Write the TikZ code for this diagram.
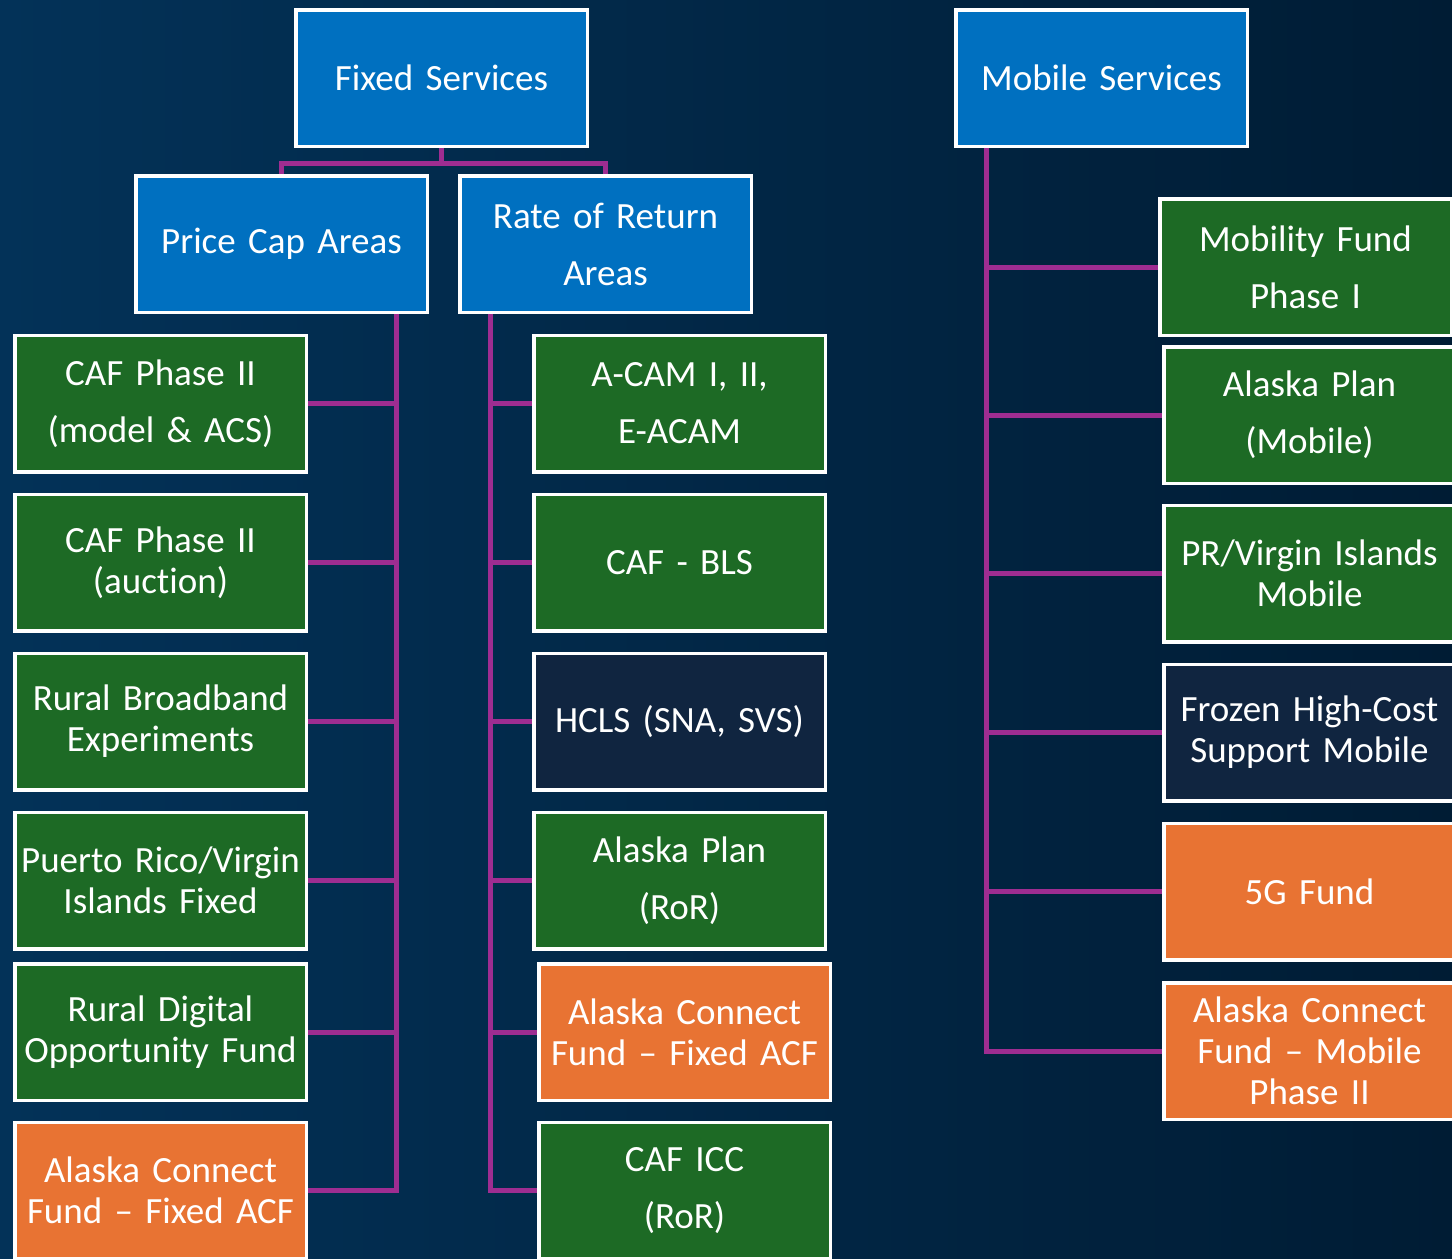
\documentclass[tikz,border=0pt]{standalone}
\usepackage{fontspec}
\setmainfont{Carlito}[Ligatures=NoCommon, WordSpace=0.8]
\usetikzlibrary{calc}

\definecolor{bgleft}{RGB}{3,50,88}
\definecolor{bgright}{RGB}{0,28,52}
\definecolor{boxblue}{RGB}{0,112,192}
\definecolor{boxgreen}{RGB}{29,106,37}
\definecolor{boxnavy}{RGB}{16,37,64}
\definecolor{boxorange}{RGB}{232,115,51}
\definecolor{linkpurple}{RGB}{158,45,145}

\pgfdeclarelayer{back}
\pgfdeclarelayer{links}
\pgfsetlayers{back,links,main}

\tikzset{
	box/.style={draw=white, line width=1.75pt, minimum width=145.75pt, minimum height=68.25pt,
		inner sep=0pt, outer sep=0pt, text=white, align=center, text width=140pt,
		font=\fontsize{18.5}{20.5}\selectfont},
	wide/.style={font=\fontsize{18.5}{28.5}\selectfont},
	link/.style={draw=linkpurple, line width=2.5pt},
}

\begin{document}
\begin{tikzpicture}[x=0.5pt, y=-0.5pt]
		%%%%% START %%%%%
		\useasboundingbox (0,0) rectangle (1452,1259);
		\clip (0,0) rectangle (1452,1259);
		\begin{pgfonlayer}{back}
			\shade[left color=bgleft, right color=bgright] (0,0) rectangle (1452,1259);
		\end{pgfonlayer}
		
		% heads
		\node[box, fill=boxblue] (fixed) at (441.5,78) {Fixed Services};
		\node[box, fill=boxblue] (mobile) at (1101.5,78) {Mobile Services};
		\node[box, fill=boxblue] (pca) at (281.5,244) {Price Cap Areas};
		\node[box, wide, fill=boxblue] (ror) at (605.5,244) {Rate of Return\\Areas};
		
		% price cap column
		\node[box, wide, fill=boxgreen] (cafmodel) at (160.5,403.5) {CAF Phase II\\(model \& ACS)};
		\node[box, fill=boxgreen] (cafauction) at (160.5,562.5) {CAF Phase II\\(auction)};
		\node[box, fill=boxgreen] (rbe) at (160.5,721.5) {Rural Broadband\\Experiments};
		\node[box, fill=boxgreen] (prfixed) at (160.5,880.5) {Puerto Rico/Virgin\\Islands Fixed};
		\node[box, fill=boxgreen] (rdof) at (160.5,1032) {Rural Digital\\Opportunity Fund};
		\node[box, fill=boxorange] (acfpc) at (160.5,1190.5) {Alaska Connect\\Fund – Fixed ACF};
		
		% rate of return column
		\node[box, wide, fill=boxgreen] (acam) at (679.5,403.5) {A-CAM I, II,\\E-ACAM};
		\node[box, fill=boxgreen] (cafbls) at (679.5,562.5) {CAF - BLS};
		\node[box, fill=boxnavy] (hcls) at (679.5,721.5) {HCLS (SNA, SVS)};
		\node[box, wide, fill=boxgreen] (akror) at (679.5,880.5) {Alaska Plan\\(RoR)};
		\node[box, fill=boxorange] (acfror) at (684.5,1032) {Alaska Connect\\Fund – Fixed ACF};
		\node[box, wide, fill=boxgreen] (caficc) at (684.5,1190.5) {CAF ICC\\(RoR)};
		
		% mobile column
		\node[box, wide, fill=boxgreen] (mf1) at (1305.5,267) {Mobility Fund\\Phase I};
		\node[box, wide, fill=boxgreen] (akmob) at (1309.5,415) {Alaska Plan\\(Mobile)};
		\node[box, fill=boxgreen] (prmob) at (1309.5,573.5) {PR/Virgin Islands\\Mobile};
		\node[box, fill=boxnavy] (frozen) at (1309.5,732.5) {Frozen High-Cost\\Support Mobile};
		\node[box, fill=boxorange] (fiveg) at (1309.5,891.5) {5G Fund};
		\node[box, fill=boxorange] (acfmob) at (1309.5,1051) {Alaska Connect\\Fund – Mobile\\Phase II};
		
		% connectors
		\coordinate (fixbus) at ($(fixed.south)+(0,17)$);
		\coordinate (pcbus) at ($(pca.south east)+(-31,0)$);
		\coordinate (rorbus) at ($(ror.south west)+(31,0)$);
		\coordinate (mobbus) at ($(mobile.south west)+(31,0)$);
		\begin{pgfonlayer}{links}
			\draw[link] (fixed.south) -- (fixbus) -| (pca.north);
			\draw[link] (fixbus) -| (ror.north);
			\foreach \c in {cafmodel,cafauction,rbe,prfixed,rdof,acfpc}
				\draw[link] (pcbus) |- (\c.east);
			\foreach \c in {acam,cafbls,hcls,akror,acfror,caficc}
				\draw[link] (rorbus) |- (\c.west);
			\foreach \c in {mf1,akmob,prmob,frozen,fiveg,acfmob}
				\draw[link] (mobbus) |- (\c.west);
		\end{pgfonlayer}
		
		%%%%% END %%%%%
\end{tikzpicture}
\end{document}
